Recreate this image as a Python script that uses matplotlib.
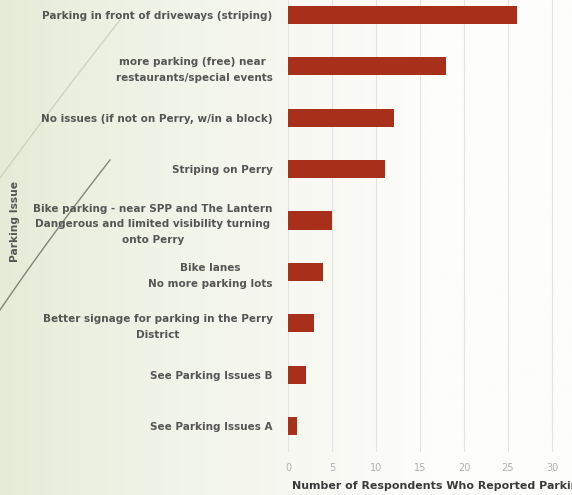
import numpy as np
import matplotlib.pyplot as plt

# parking issues, top to bottom as drawn
issues = [
    "Parking in front of driveways (striping)",
    "more parking (free) near \nrestaurants/special events",
    "No issues (if not on Perry, w/in a block)",
    "Striping on Perry",
    "Bike parking - near SPP and The Lantern\nDangerous and limited visibility turning\nonto Perry",
    "Bike lanes\nNo more parking lots",
    "Better signage for parking in the Perry\nDistrict",
    "See Parking Issues B",
    "See Parking Issues A",
]
counts = [26, 18, 12, 11, 5, 4, 3, 2, 1]
xticks = [0, 5, 10, 15, 20, 25, 30]

W, H = 572, 495
fig = plt.figure(figsize=(W / 100, H / 100), dpi=100)

# background: greenish on the left fading to white
bg = fig.add_axes([0, 0, 1, 1], zorder=0)
t = np.linspace(0, 1, 300)
left = np.array([229, 235, 214]) / 255
right = np.array([253, 253, 251]) / 255
w = np.clip(t / 0.75, 0, 1) ** 0.8
grad = left[None, :] * (1 - w[:, None]) + right[None, :] * w[:, None]
bg.imshow(grad[None, :, :], aspect="auto", extent=[0, 1, 0, 1])
bg.set_xlim(0, 1)
bg.set_ylim(0, 1)
bg.axis("off")

# decorative swoosh lines on the left
s = np.linspace(0, 1, 50)
x1 = (0 + 120 * s - 10 * s * (1 - s)) / W
y1 = 1 - (178 - 158 * s + 8 * s * (1 - s)) / H
bg.plot(x1, y1, color="#cdd1bb", lw=0.9)
x2 = (0 + 110 * s - 15 * s * (1 - s)) / W
y2 = 1 - (310 - 150 * s + 10 * s * (1 - s)) / H
bg.plot(x2, y2, color="#6b6b5e", lw=1.0, alpha=0.8)

ax = fig.add_axes([288 / W, 43 / H, 352 / W, 463 / H], zorder=1)
ax.patch.set_alpha(0)
y = np.arange(len(issues))
ax.barh(y, counts, height=0.35, color="#a8301a")
ax.set_ylim(len(issues) - 0.5, -0.5)
ax.set_xlim(0, 40)
ax.set_xticks(xticks)
ax.set_xticklabels([str(v) for v in xticks], color="#b0b0b0", fontsize=7)
ax.set_yticks(y)
ax.set_yticklabels(issues, fontsize=7.5, fontweight="bold", color="#555555",
                   multialignment="center", linespacing=1.7)
ax.tick_params(length=0, axis="both")
ax.tick_params(axis="y", pad=11)
ax.tick_params(axis="x", pad=8)
ax.grid(axis="x", color="#e3e3e3", lw=0.8)
ax.set_axisbelow(True)
for sp in ax.spines.values():
    sp.set_visible(False)

# x label runs past the right edge, as in the cropped original
fig.text(292 / W, 1 - 486 / H, "Number of Respondents Who Reported Parking Issues",
         ha="left", va="center", fontsize=7.9, fontweight="bold", color="#3a3a3a")
fig.text(15 / W, 1 - 221 / H, "Parking Issue", rotation=90, ha="center",
         va="center", fontsize=7.7, fontweight="bold", color="#555555")

fig.savefig("out.png", dpi=100)
